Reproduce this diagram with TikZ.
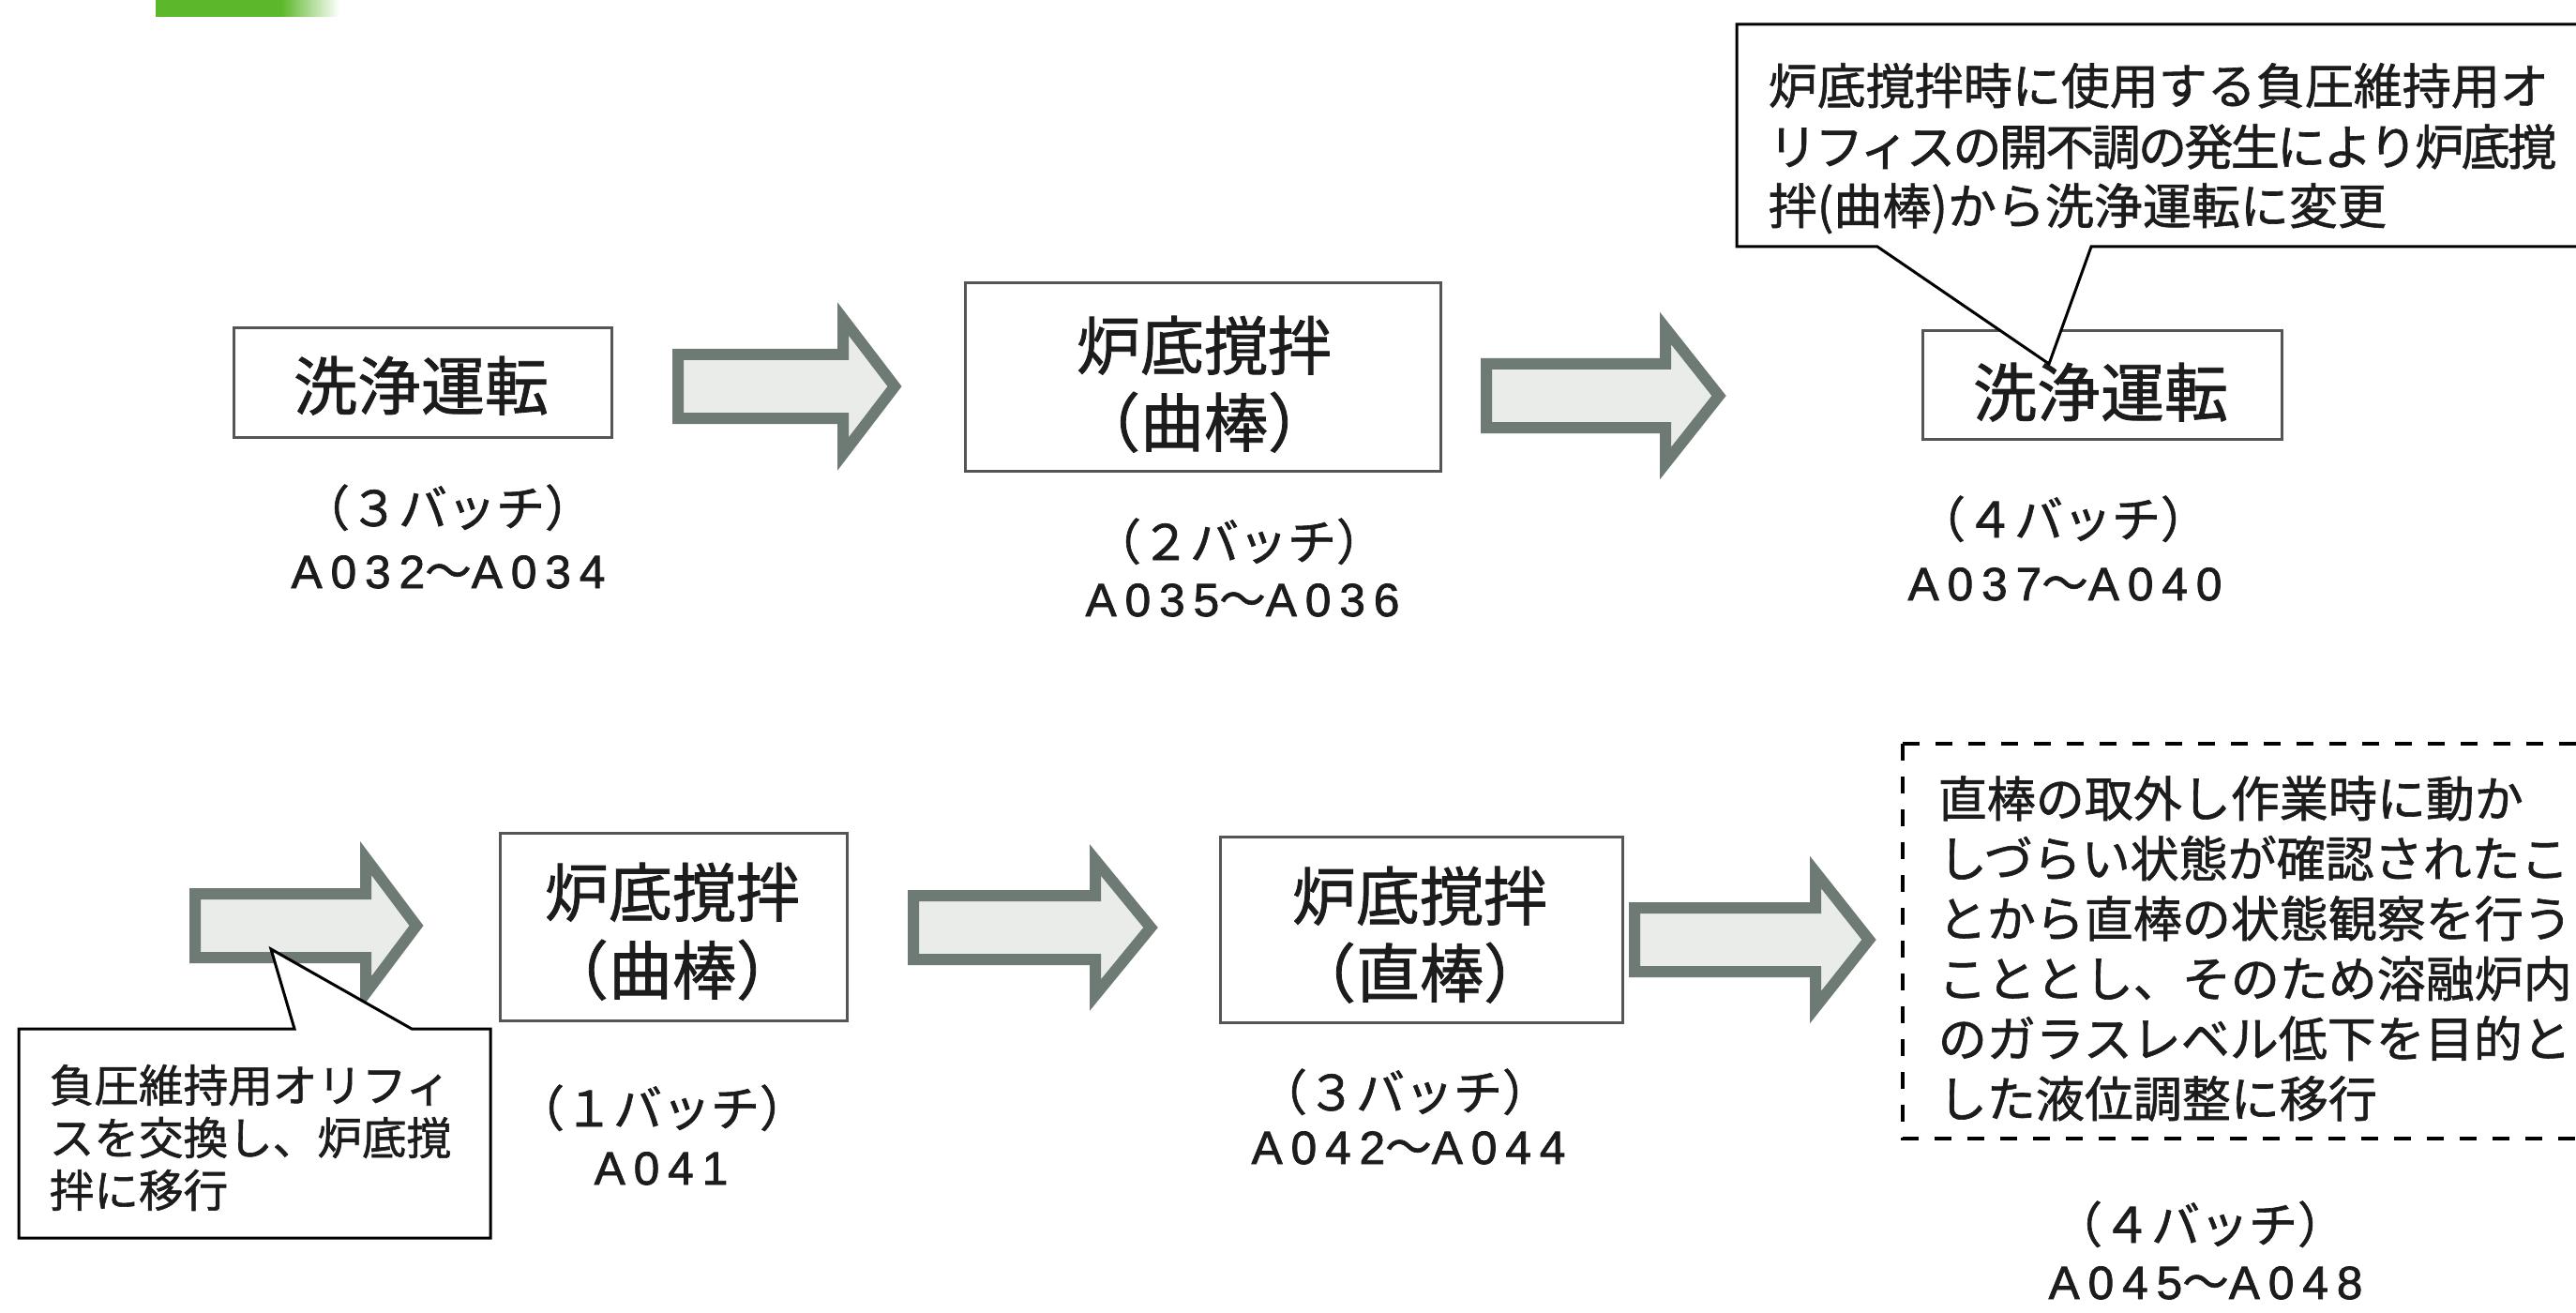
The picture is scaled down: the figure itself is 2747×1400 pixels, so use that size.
\documentclass[tikz,border=0pt]{standalone}
\usepackage{fontspec}
\setmainfont{Noto Sans CJK JP}[FakeBold=1.2]
\newfontfamily\jp{Noto Sans CJK JP}[FakeBold=1.2]
\newfontfamily\jpn{Noto Sans CJK JP}[LetterSpace=-5,FakeBold=1.2]
\newfontfamily\lat{Liberation Sans}[LetterSpace=18,FakeBold=1.6]
\definecolor{arrline}{RGB}{110,122,116}
\definecolor{arrfill}{RGB}{233,236,233}
\definecolor{boxline}{RGB}{85,85,85}
\definecolor{ink}{RGB}{28,28,28}
\definecolor{grn}{RGB}{92,184,42}
\newcommand\fatarrow[4]{%
  \draw[fatarr] ({#1+6},{#4-34}) -- ({#2+6},{#4-34}) -- ({#2+6},{#4-72}) --
    ({#3-8},{#4}) -- ({#2+6},{#4+72}) -- ({#2+6},{#4+34}) -- ({#1+6},{#4+34}) -- cycle;}
\begin{document}
\begin{tikzpicture}[x=0.25pt,y=-0.25pt,
  fatarr/.style={draw=arrline, fill=arrfill, line width=3pt, line join=miter},
  stagebox/.style={draw=boxline, line width=0.75pt, fill=white, rectangle, inner sep=0pt},
  boxtxt/.style={font=\fontsize{17pt}{20pt}\selectfont, text=ink, inner sep=0pt, anchor=base},
  lbl/.style={font=\fontsize{13pt}{16pt}\selectfont, text=ink, inner sep=0pt, anchor=base},
  code/.style={font=\lat\fontsize{12.4pt}{14pt}\selectfont, text=ink, inner sep=0pt, anchor=base},
  callout/.style={draw=black, line width=0.75pt, fill=white, line join=miter},
  ctext/.style={font=\fontsize{13pt}{16pt}\selectfont, text=ink, inner sep=0pt, anchor=base west},
  stext/.style={font=\fontsize{11.9pt}{14pt}\selectfont, text=ink, inner sep=0pt, anchor=base west},
  dashbox/.style={draw=black, line width=1pt, dash pattern=on 4.5pt off 4.25pt}]
\useasboundingbox (0,0) rectangle (2747,1400);
\clip (0,0) rectangle (2747,1400);
% green header bar
\fill[grn] (166,0) rectangle (300,18);
\shade[left color=grn, right color=white] (300,0) rectangle (362,18);
% top row boxes
\node[stagebox, minimum width=100.75pt, minimum height=29pt] (b1) at (450.5,408) {};
\node[boxtxt] (b1t) at (449,437) {洗浄運転};
\node[stagebox, minimum width=126.75pt, minimum height=50pt] (b2) at (1282.5,402) {};
\node[boxtxt] (b2t1) at (1284,394) {炉底撹拌};
\node[boxtxt] (b2t2) at (1284,476) {（曲棒）};
\node[stagebox, minimum width=95.75pt, minimum height=28.75pt] (b3) at (2241.5,410.5) {};
\node[boxtxt] (b3t) at (2240,444) {洗浄運転};
% bottom row boxes
\node[stagebox, minimum width=92.5pt, minimum height=50pt] (b4) at (718,988) {};
\node[boxtxt] (b4t1) at (717,977) {炉底撹拌};
\node[boxtxt] (b4t2) at (717,1060) {（曲棒）};
\node[stagebox, minimum width=107.25pt, minimum height=49.5pt] (b5) at (1515.5,991) {};
\node[boxtxt] (b5t1) at (1514,981) {炉底撹拌};
\node[boxtxt] (b5t2) at (1514,1063) {（直棒）};
% block arrows
\fatarrow{717}{893}{962}{412}
\fatarrow{1579}{1770}{1841}{422}
\fatarrow{202}{384}{452}{987}
\fatarrow{968}{1162}{1235}{989}
\fatarrow{1737}{1930}{2001}{1002}
% batch labels
\node[lbl] (l1a) at (477,561) {（３バッチ）};
\node[code] (l1b) at (478,627) {A032{\jp ～}A034};
\node[lbl] (l2a) at (1321,597) {（２バッチ）};
\node[code] (l2b) at (1325,657) {A035{\jp ～}A036};
\node[lbl] (l3a) at (2200,573) {（４バッチ）};
\node[code] (l3b) at (2202,640) {A037{\jp ～}A040};
\node[lbl] (l4a) at (706,1201) {（１バッチ）};
\node[code] (l4b) at (705,1263) {A041};
\node[lbl] (l5a) at (1498,1184) {（３バッチ）};
\node[code] (l5b) at (1502,1241) {A042{\jp ～}A044};
\node[lbl] (l6a) at (2346,1325) {（４バッチ）};
\node[code] (l6b) at (2352,1385) {A045{\jp ～}A048};
% upper callout
\draw[callout] (1852,26) -- (2775,26) -- (2775,263) -- (2230,263) -- (2185,388) -- (2002,263) -- (1852,263) -- cycle;
\node[ctext] (c1) at (1885,111) {炉底撹拌時に使用する負圧維持用オ};
\node[ctext, font=\jpn\fontsize{13pt}{16pt}\selectfont] (c2) at (1885,176) {リフィスの開不調の発生により炉底撹};
\node[ctext] (c3) at (1885,239) {拌(曲棒)から洗浄運転に変更};
% lower-left callout
\draw[callout] (20,1097) -- (314,1097) -- (289,1012) -- (439,1097) -- (523,1097) -- (523,1320) -- (20,1320) -- cycle;
\node[stext] (s1) at (52,1175) {負圧維持用オリフィ};
\node[stext] (s2) at (52,1231) {スを交換し、炉底撹};
\node[stext] (s3) at (52,1287) {拌に移行};
% dashed note
\draw[dashbox] (2029,793) -- (2775,793);
\draw[dashbox] (2029,793) -- (2029,1214) -- (2775,1214);
\node[ctext] (d1) at (2066,871) {直棒の取外し作業時に動か};
\node[ctext] (d2) at (2066,935) {しづらい状態が確認されたこ};
\node[ctext] (d3) at (2066,999) {とから直棒の状態観察を行う};
\node[ctext] (d4) at (2066,1063) {こととし、そのため溶融炉内};
\node[ctext] (d5) at (2066,1127) {のガラスレベル低下を目的と};
\node[ctext] (d6) at (2066,1191) {した液位調整に移行};
\end{tikzpicture}
\end{document}
